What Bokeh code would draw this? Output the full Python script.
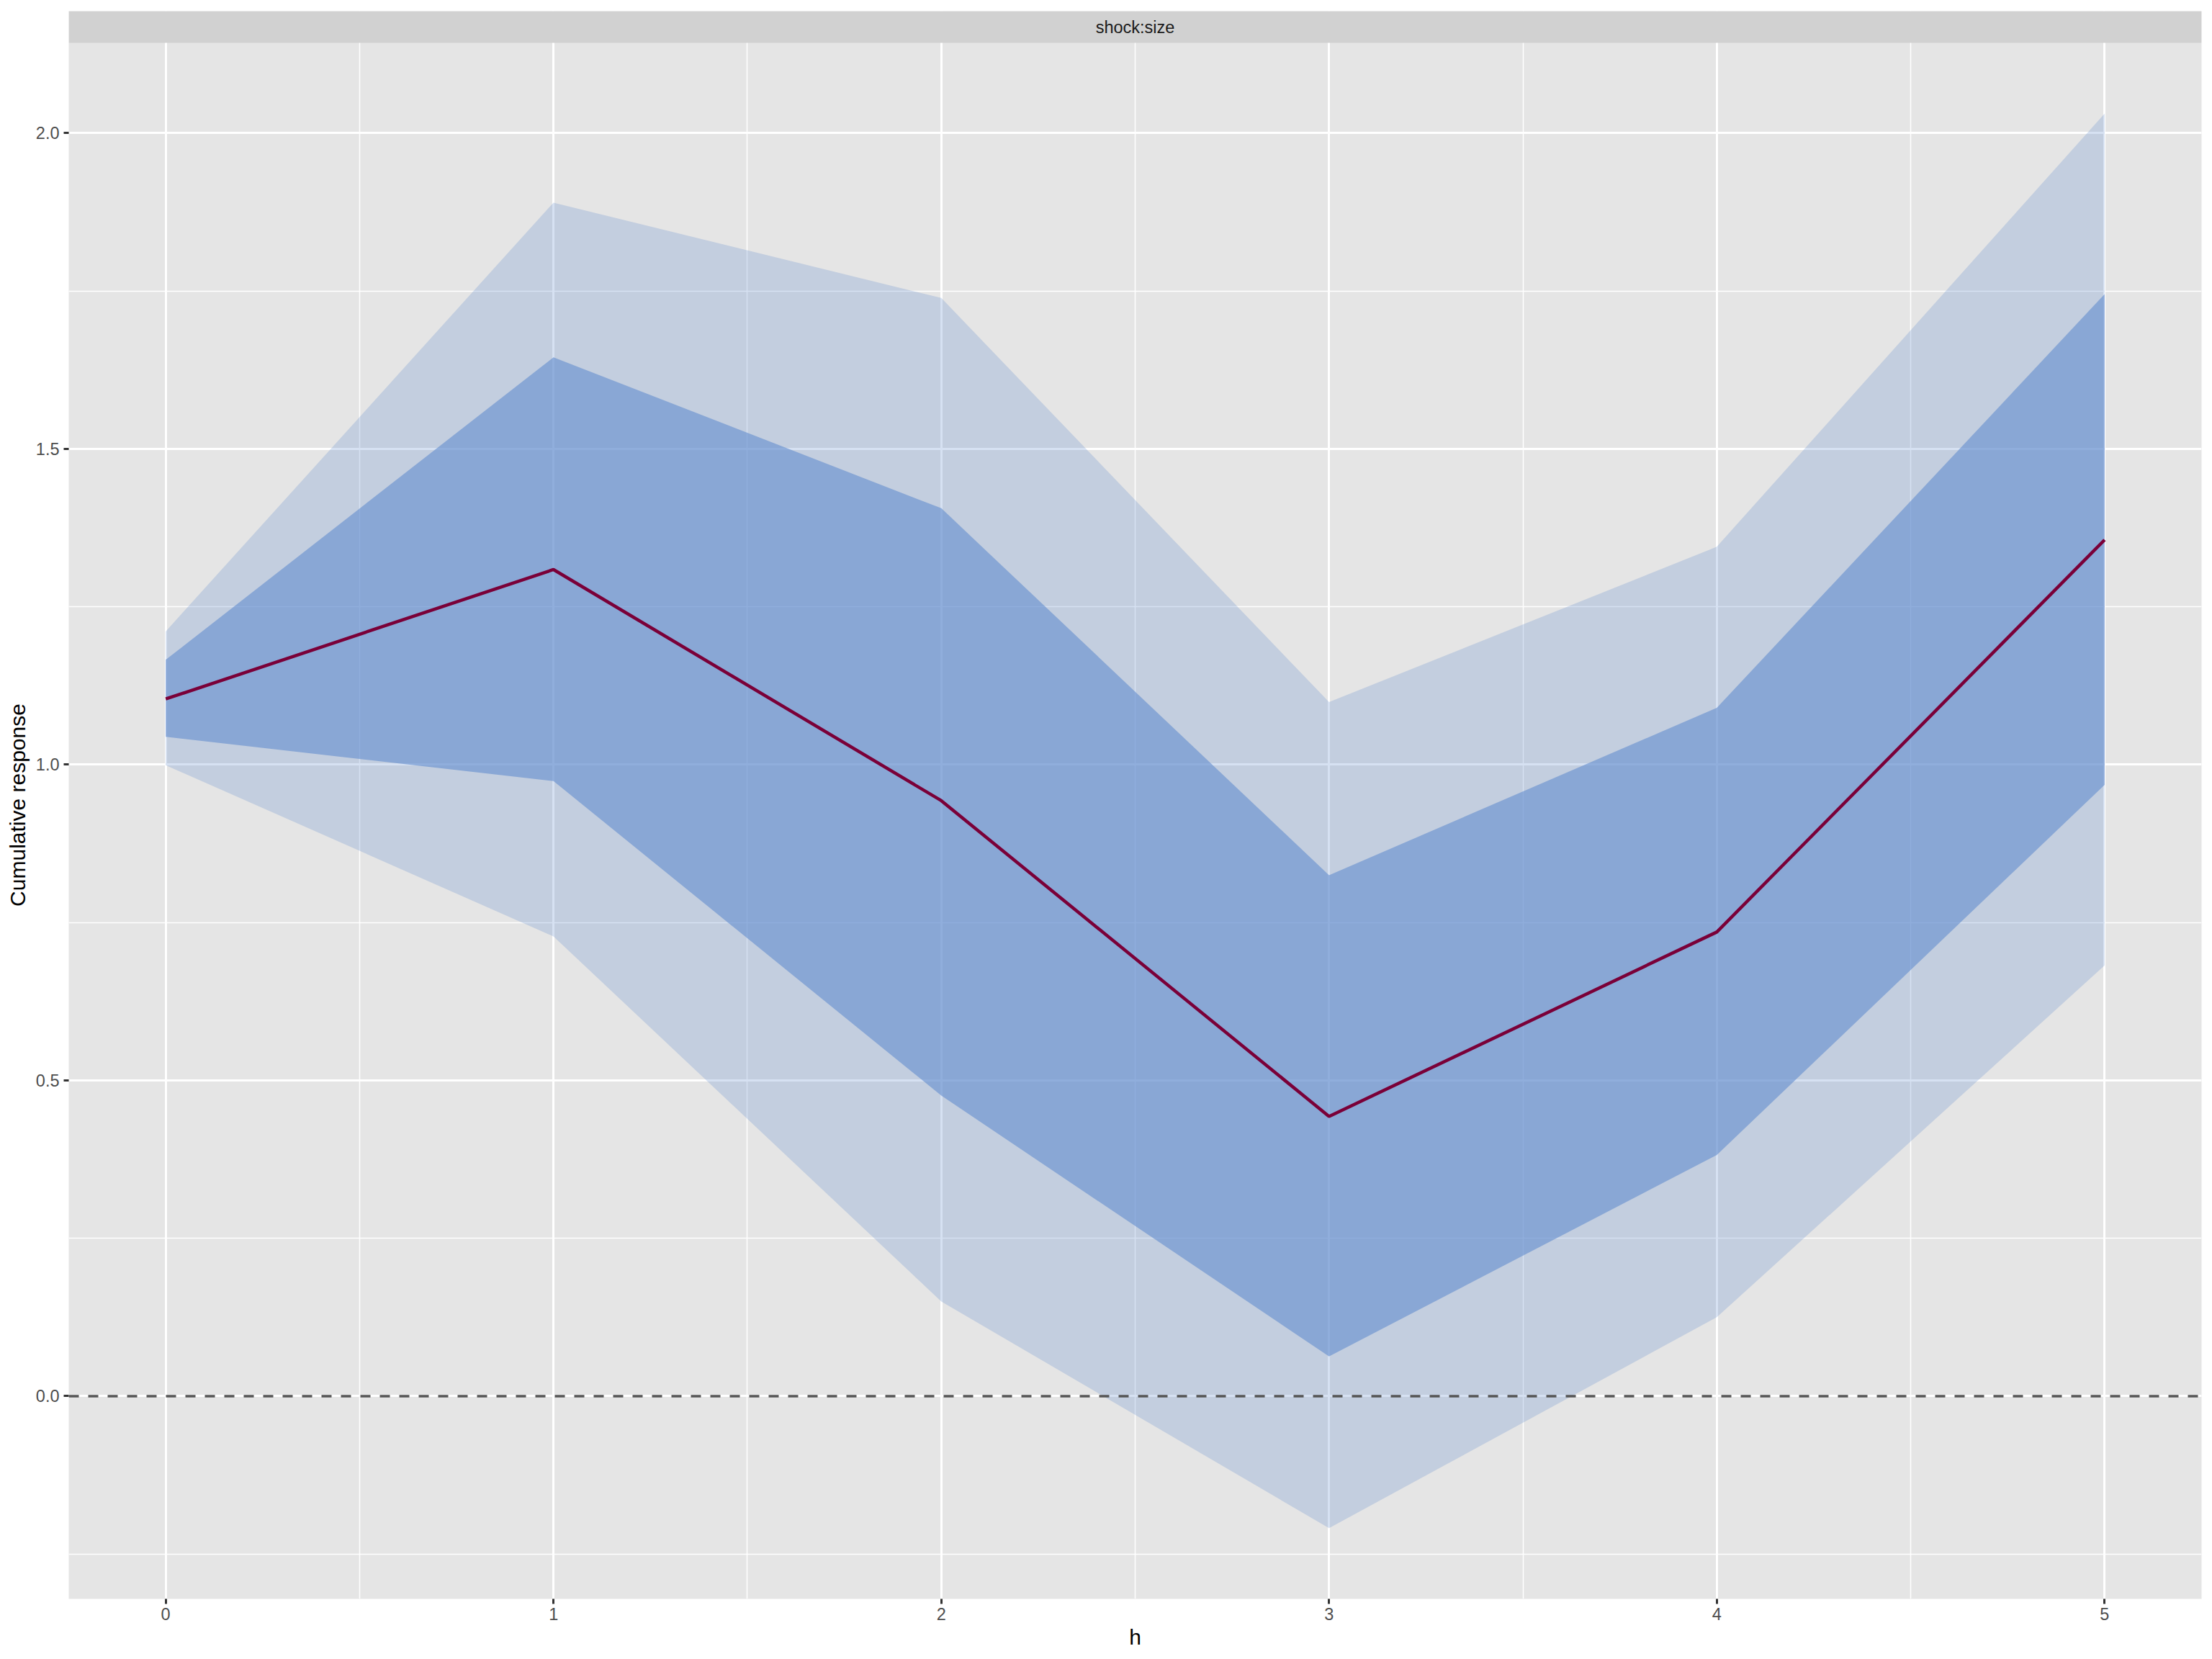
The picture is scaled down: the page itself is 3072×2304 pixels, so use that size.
from bokeh.plotting import figure
from bokeh.models import Range1d, FixedTicker, Span, ColumnDataSource
from bokeh.core.properties import value
from bokeh.embed import file_html
from bokeh.resources import INLINE

# ---- data ----
h = [0, 1, 2, 3, 4, 5]
mean = [1.104, 1.309, 0.943, 0.443, 0.735, 1.356]
inner_lo = [1.044, 0.974, 0.476, 0.063, 0.382, 0.968]
inner_hi = [1.166, 1.645, 1.406, 0.825, 1.090, 1.745]
outer_lo = [0.999, 0.728, 0.150, -0.209, 0.125, 0.682]
outer_hi = [1.211, 1.890, 1.739, 1.099, 1.345, 2.031]
ref_level = 0.0
x_ticks = [0, 1, 2, 3, 4, 5]
x_minor = [0.5, 1.5, 2.5, 3.5, 4.5]
y_ticks = [0.0, 0.5, 1.0, 1.5, 2.0]
y_minor = [-0.25, 0.25, 0.75, 1.25, 1.75]
y_tick_labels = {0.0: "0.0", 0.5: "0.5", 1.0: "1.0", 1.5: "1.5", 2.0: "2.0"}
strip_label = "shock:size"

FONT = "Liberation Sans"

# ggplot-style 5% expansion
xmin, xmax = min(h), max(h)
xpad = 0.05 * (xmax - xmin)
ymin, ymax = min(outer_lo), max(outer_hi)
ypad = 0.05 * (ymax - ymin)
y0, y1 = ymin - ypad, ymax + ypad

frame_w = 2962
panel_h = 2161
strip_h = 44
frame_h = panel_h + strip_h
px_per_unit = panel_h / (y1 - y0)
y_top = y1 + strip_h / px_per_unit

p = figure(
    frame_width=frame_w, frame_height=frame_h,
    x_range=Range1d(xmin - xpad, xmax + xpad),
    y_range=Range1d(y0, y_top),
    output_backend="svg", toolbar_location=None,
    min_border_left=83, min_border_right=7, min_border_top=15, min_border_bottom=68,
    background_fill_color="#E5E5E5", border_fill_color="white",
)
p.margin = (0, 0, 0, 4)
p.outline_line_color = None

# grids
p.xaxis.ticker = FixedTicker(ticks=x_ticks, minor_ticks=x_minor)
p.yaxis.ticker = FixedTicker(ticks=y_ticks, minor_ticks=y_minor)
for g in (p.xgrid, p.ygrid):
    g.grid_line_color = "white"
    g.grid_line_width = 3
    g.minor_grid_line_color = "white"
    g.minor_grid_line_width = 1.5

# bands
band_color = "#6790CF"
p.varea(x=h, y1=outer_lo, y2=outer_hi, fill_color=band_color, fill_alpha=0.27)
p.varea(x=h, y1=inner_lo, y2=inner_hi, fill_color=band_color, fill_alpha=0.63)

# mean line
p.line(x=h, y=mean, line_color="#7A0038", line_width=4.5)

# zero reference line
p.add_layout(Span(location=ref_level, dimension="width", line_color="#555555",
                  line_width=3.5, line_dash="14 13"))

# facet strip (drawn inside the top of the frame)
strip_src = ColumnDataSource(dict(left=[xmin - xpad], right=[xmax + xpad],
                                  bottom=[y1], top=[y_top]))
p.quad(left="left", right="right", bottom="bottom", top="top", source=strip_src,
       fill_color="#D1D1D1", line_color=None)
p.text(x=[(xmin + xmax) / 2], y=[(y1 + y_top) / 2], text=[strip_label],
       text_font=value(FONT), text_font_size="23.5px", text_color="#1A1A1A",
       text_align="center", text_baseline="middle")

# axes
for ax in (p.xaxis, p.yaxis):
    ax.axis_line_color = None
    ax.major_tick_line_color = "#333333"
    ax.major_tick_line_width = 3
    ax.major_tick_out = 7
    ax.major_tick_in = 0
    ax.minor_tick_line_color = None
    ax.major_label_text_font = FONT
    ax.major_label_text_font_size = "23.5px"
    ax.major_label_text_color = "#4D4D4D"
    ax.axis_label_text_font = FONT
    ax.axis_label_text_font_size = "30px"
    ax.axis_label_text_font_style = "normal"
    ax.axis_label_text_color = "black"

p.xaxis.axis_label = "h"
p.xaxis.major_label_standoff = 5
p.xaxis.axis_label_standoff = 4
p.yaxis.axis_label = "Cumulative response"
p.yaxis.major_label_standoff = 6
p.yaxis.axis_label_standoff = 6
p.yaxis.major_label_overrides = y_tick_labels

open("out.html", "w").write(file_html(p, INLINE))
